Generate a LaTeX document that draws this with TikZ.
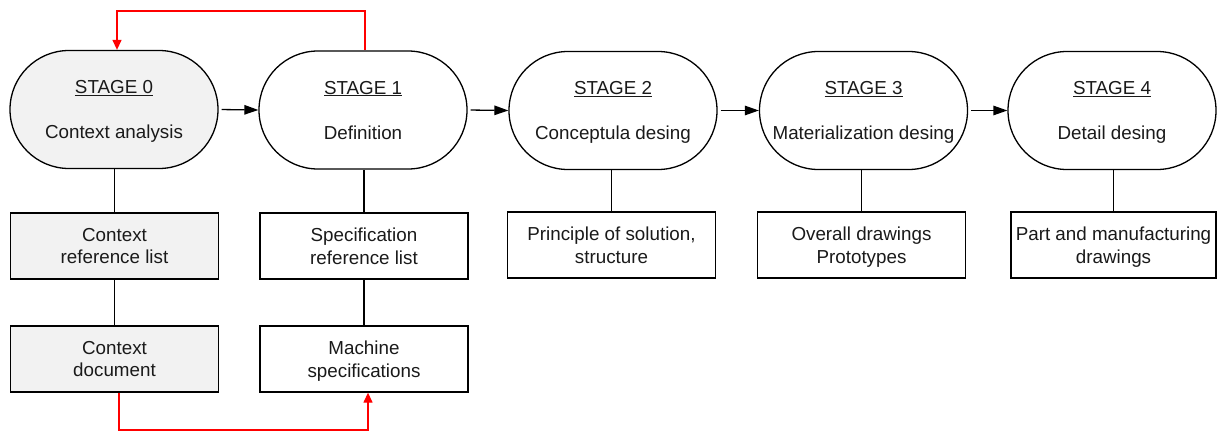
\documentclass[tikz,border=0pt]{standalone}
\usepackage{fontspec}
\setmainfont{Liberation Sans}
\usetikzlibrary{arrows.meta,calc}
\definecolor{shade}{HTML}{F2F2F2}
\definecolor{loopred}{HTML}{FF0000}
\definecolor{ink}{HTML}{1A1A1A}
\begin{document}
\begin{tikzpicture}[x=1pt,y=-1pt,
  every node/.style={font=\fontsize{18.8}{22.7}\selectfont, text=ink, inner sep=0pt, align=center, text depth=0pt},
  stagebox/.style={draw, line width=1.3pt, minimum width=208pt, minimum height=118pt, rounded corners=58.9pt, fill=white},
  itembox/.style={draw, line width=1.3pt, minimum width=208pt, minimum height=66pt, fill=white},
  done/.style={fill=shade},
  link/.style={line width=1.3pt},
  flow/.style={line width=1.3pt, -{Triangle[length=14pt,width=9.5pt]}, shorten <=3pt},
  feedback/.style={line width=1.3pt, draw=loopred, -{Triangle[length=10pt,width=9pt]}}
]
\useasboundingbox (0,0) rectangle (1217,433);

% design stages
\node[stagebox, done] (s0) at (114,109.5) {\underline{STAGE 0}\\[22.3pt]Context analysis};
\node[stagebox] (s1) at (363,110) {\underline{STAGE 1}\\[22.3pt]Definition};
\node[stagebox] (s2) at (613,110.5) {\underline{STAGE 2}\\[22.3pt]Conceptula desing};
\node[stagebox] (s3) at (863.5,110.5) {\underline{STAGE 3}\\[22.3pt]Materialization desing};
\node[stagebox] (s4) at (1112,110.5) {\underline{STAGE 4}\\[22.3pt]Detail desing};

% deliverables of each stage
\node[itembox, done] (b0a) at (114.5,246) {Context\\reference list};
\node[itembox] (b1a) at (364,246) {Specification\\reference list};
\node[itembox] (b2) at (611.5,245) {Principle of solution,\\structure};
\node[itembox] (b3) at (861.5,245) {Overall drawings\\Prototypes};
\node[itembox, minimum width=205pt] (b4) at (1113.5,245) {Part and manufacturing\\drawings};
\node[itembox, done] (b0b) at (114.5,359) {Context\\document};
\node[itembox] (b1b) at (364,359) {Machine\\specifications};

% stage sequence
\draw[flow] (s0.east) -- (s1.west);
\draw[flow] (s1.east) -- (s2.west);
\draw[flow] (s2.east) -- (s3.west);
\draw[flow] (s3.east) -- (s4.west);

% stage to deliverable links
\foreach \s/\b in {s0/b0a, s1/b1a, s2/b2, s3/b3, s4/b4}
  \draw[link] (\b.north) -- (\b.north |- \s.south);
\draw[link] (b0a.south) -- (b0b.north);
\draw[link] (b1a.south) -- (b1b.north);

% feedback loops
\coordinate (loopTop) at (0,11);
\coordinate (loopBot) at (0,430);
\coordinate (s1out) at ([xshift=2pt]s1.north);
\coordinate (s0in) at ([xshift=3pt]s0.north);
\coordinate (b0out) at ([xshift=4.5pt]b0b.south);
\coordinate (b1in) at ([xshift=4pt]b1b.south);
\draw[feedback] (s1out) |- (s0in |- loopTop) -- (s0in);
\draw[feedback] (b0out) |- (b1in |- loopBot) -- (b1in);
\end{tikzpicture}
\end{document}
